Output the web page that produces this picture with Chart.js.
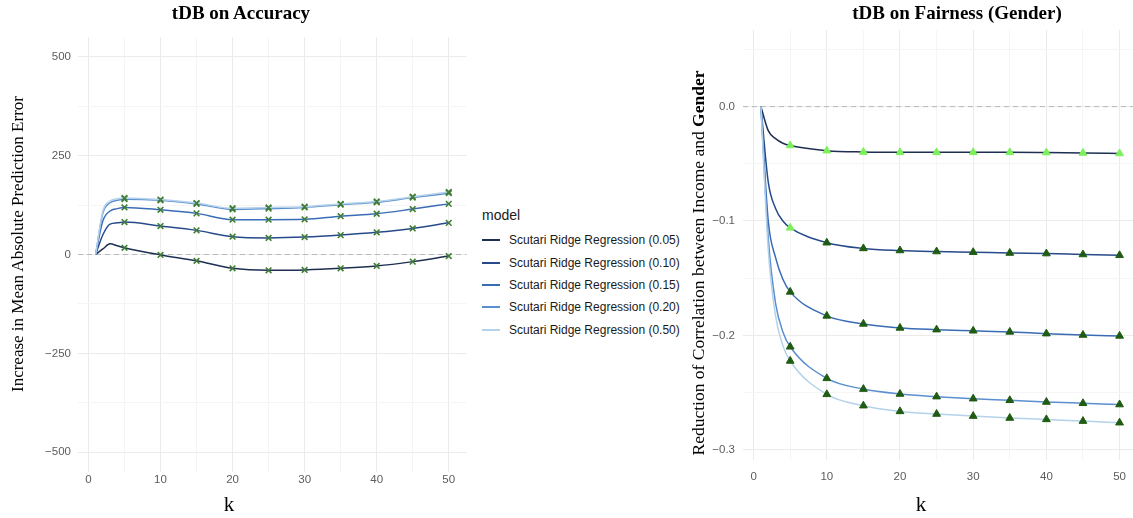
<!DOCTYPE html>
<html>
<head>
<meta charset="utf-8">
<script src="https://cdn.jsdelivr.net/npm/chart.js@4.4.1/dist/chart.umd.min.js"></script>
<style>
  body { margin: 0; width: 1133px; height: 518px; overflow: hidden; position: relative; background: #fff; }
  .box { position: absolute; }
  .title { font: bold 19px "Liberation Serif", "Times New Roman", serif; color: #000; text-align: center; width: 300px; line-height: 24px; }
  .axtitle { font: 17px "Liberation Serif", "Times New Roman", serif; color: #000; text-align: center; line-height: 20px; white-space: nowrap; }
  .rot { transform: rotate(-90deg); }
  #legend { left: 482px; top: 205px; font-family: "Liberation Sans", Arial, sans-serif; color: #1a1a1a; }
  #legend .head { font-size: 14px; line-height: 20px; margin-bottom: 4px; }
  #legend .item { display: flex; align-items: center; height: 22.4px; font-size: 12px; }
  #legend .key { width: 18px; height: 2px; margin-right: 9px; }
</style>
</head>
<body>
<div class="box" style="left:0;top:0;width:472px;height:518px"><canvas id="accuracyChart" width="472" height="518"></canvas></div>
<div class="box" style="left:680px;top:0;width:463px;height:518px"><canvas id="fairnessChart" width="463" height="518"></canvas></div>

<div class="box title" style="left:91px;top:1px">tDB on Accuracy</div>
<div class="box title" style="left:807px;top:1px">tDB on Fairness (Gender)</div>
<div class="box axtitle rot" style="left:-182px;top:234px;width:400px">Increase in Mean Absolute Prediction Error</div>
<div class="box axtitle rot" style="left:473px;top:253px;width:450px;font-size:17.5px">Reduction of Correlation between Income and <b>Gender</b></div>
<div class="box axtitle" style="left:199px;top:494px;width:60px;font-size:21px">k</div>
<div class="box axtitle" style="left:891px;top:494px;width:60px;font-size:21px">k</div>
<div class="box" id="legend"></div>

<script>
// k values where the curves were read; markers only at k = 5, 10, ... 50
const kValues = [1, 2, 3, 4, 5, 10, 15, 20, 25, 30, 35, 40, 45, 50];
const xTicks = [0, 5, 10, 15, 20, 25, 30, 35, 40, 45, 50];

const modelLabels = [
  "Scutari Ridge Regression (0.05)",
  "Scutari Ridge Regression (0.10)",
  "Scutari Ridge Regression (0.15)",
  "Scutari Ridge Regression (0.20)",
  "Scutari Ridge Regression (0.50)",
];
const lineColors = ["#1e2f52", "#274a8a", "#3a6cb5", "#5b8fcf", "#b4d2ea"];

// Increase in MAE
const accuracy005 = [0, 14, 27, 22, 17, -1, -16, -35, -40, -39, -35, -29, -18, -4];
const accuracy010 = [0, 50, 77, 80, 82, 72, 61, 45, 42, 44, 49, 56, 66, 80];
const accuracy015 = [0, 85, 110, 116, 119, 113, 104, 88, 88, 89, 97, 103, 115, 128];
const accuracy020 = [0, 105, 131, 137, 140, 137, 128, 114, 116, 119, 126, 132, 144, 155];
const accuracy050 = [0, 110, 135, 141, 143, 139, 130, 117, 119, 121, 128, 134, 146, 158];
const accuracyTicks = [-500, -375, -250, -125, 0, 125, 250, 375, 500];

// Reduction of correlation (gender)
const fairness005 = [0, -0.021, -0.028, -0.032, -0.034, -0.0385, -0.0397, -0.04, -0.04, -0.04, -0.04, -0.0402, -0.0405, -0.041];
const fairness010 = [0, -0.066, -0.089, -0.1, -0.106, -0.119, -0.124, -0.1258, -0.1267, -0.1273, -0.128, -0.1285, -0.1293, -0.13];
const fairness015 = [0, -0.1, -0.132, -0.151, -0.162, -0.183, -0.19, -0.1935, -0.195, -0.196, -0.197, -0.1985, -0.1997, -0.2005];
const fairness020 = [0, -0.115, -0.172, -0.197, -0.21, -0.2376, -0.247, -0.2513, -0.2536, -0.2554, -0.2568, -0.2583, -0.2594, -0.2605];
const fairness050 = [0, -0.125, -0.183, -0.209, -0.2224, -0.2516, -0.2615, -0.2665, -0.2688, -0.2706, -0.2723, -0.2735, -0.275, -0.2764];
const fairnessTicks = [0.05, 0, -0.05, -0.1, -0.15, -0.2, -0.25, -0.3];

// 1 = light green marker, 0 = dark green marker (k = 5 .. 50)
const fairnessLight005 = [1, 1, 1, 1, 1, 1, 1, 1, 1, 1];
const fairnessLight010 = [1, 0, 0, 0, 0, 0, 0, 0, 0, 0];
const fairnessLight015 = [0, 0, 0, 0, 0, 0, 0, 0, 0, 0];
const fairnessLight020 = [0, 0, 0, 0, 0, 0, 0, 0, 0, 0];
const fairnessLight050 = [0, 0, 0, 0, 0, 0, 0, 0, 0, 0];

const accuracySeries = [accuracy005, accuracy010, accuracy015, accuracy020, accuracy050];
const fairnessSeries = [fairness005, fairness010, fairness015, fairness020, fairness050];
const fairnessLight = [fairnessLight005, fairnessLight010, fairnessLight015, fairnessLight020, fairnessLight050];

const majorGrid = "#ebebeb";
const minorGrid = "#f5f5f5";
const tickFont = { family: "'Liberation Sans', Arial, sans-serif", size: 11.5 };
const tickColor = "#5c5c5c";

const minus = (s) => s.replace("-", "\u2212");

// dashed zero reference line
const zeroLine = {
  id: "zeroLine",
  beforeDatasetsDraw(chart) {
    const { ctx, chartArea } = chart;
    const y = chart.scales.y.getPixelForValue(0);
    ctx.save();
    ctx.strokeStyle = "#b8b8b8";
    ctx.lineWidth = 1;
    ctx.setLineDash([5, 4]);
    ctx.beginPath();
    ctx.moveTo(chartArea.left, y);
    ctx.lineTo(chartArea.right, y);
    ctx.stroke();
    ctx.restore();
  },
};

function xAxis(height, pad) {
  return {
    type: "linear",
    min: -1.45,
    max: 52.45,
    afterBuildTicks: (s) => { s.ticks = xTicks.map((v) => ({ value: v })); },
    afterFit: (s) => { s.height = height; },
    border: { display: false },
    grid: {
      drawTicks: false,
      color: (c) => (c.tick && c.tick.value % 10 === 0 ? majorGrid : minorGrid),
    },
    ticks: {
      autoSkip: false,
      maxRotation: 0,
      padding: pad,
      font: tickFont,
      color: tickColor,
      callback: (v) => (v % 10 === 0 ? String(v) : ""),
    },
  };
}

function yAxis(width, pad, min, max, ticks, isMajor, fmt) {
  return {
    type: "linear",
    min: min,
    max: max,
    afterBuildTicks: (s) => { s.ticks = ticks.map((v) => ({ value: v })); },
    afterFit: (s) => { s.width = width; },
    border: { display: false },
    grid: {
      drawTicks: false,
      color: (c) => (c.tick && isMajor(c.tick.value) ? majorGrid : minorGrid),
    },
    ticks: {
      autoSkip: false,
      padding: pad,
      font: tickFont,
      color: tickColor,
      callback: (v) => (isMajor(v) ? fmt(v) : ""),
    },
  };
}

function toPoints(values) {
  return values.map((v, i) => ({ x: kValues[i], y: v }));
}

const baseOptions = {
  responsive: false,
  animation: false,
  events: [],
  plugins: { legend: { display: false }, tooltip: { enabled: false } },
};

// left chart
new Chart(document.getElementById("accuracyChart"), {
  type: "line",
  data: {
    datasets: accuracySeries.map((vals, i) => ({
      label: modelLabels[i],
      data: toPoints(vals),
      borderColor: lineColors[i],
      borderWidth: 1.5,
      cubicInterpolationMode: "monotone",
      pointStyle: "crossRot",
      pointRadius: (c) => (c.raw && c.raw.x >= 5 ? 4 : 0),
      pointBorderColor: "#3f7d35",
      pointBackgroundColor: "#3f7d35",
      pointBorderWidth: 1.6,
      order: 5 - i,
    })),
  },
  options: {
    ...baseOptions,
    layout: { padding: { top: 37, right: 3, left: 0, bottom: 0 } },
    scales: {
      x: xAxis(46, 1),
      y: yAxis(78, 7, -550, 550, accuracyTicks, (v) => v % 250 === 0, (v) => minus(String(v))),
    },
  },
  plugins: [zeroLine],
});

// right chart
new Chart(document.getElementById("fairnessChart"), {
  type: "line",
  data: {
    datasets: fairnessSeries.map((vals, i) => ({
      label: modelLabels[i],
      data: toPoints(vals),
      borderColor: lineColors[i],
      borderWidth: 1.5,
      cubicInterpolationMode: "monotone",
      pointStyle: "triangle",
      pointRadius: (c) => (c.raw && c.raw.x >= 5 ? 4.5 : 0),
      pointBackgroundColor: (c) => (fairnessLight[i][c.dataIndex - 4] ? "#7cf05a" : "#1f5c12"),
      pointBorderColor: (c) => (fairnessLight[i][c.dataIndex - 4] ? "#7cf05a" : "#1f5c12"),
      pointBorderWidth: 1,
      order: 5 - i,
    })),
  },
  options: {
    ...baseOptions,
    layout: { padding: { top: 30, right: 2, left: 0, bottom: 0 } },
    scales: {
      x: xAxis(58, 10),
      y: yAxis(63, 8, -0.309, 0.067, fairnessTicks,
        (v) => Math.abs(Math.round(v * 100)) % 10 === 0,
        (v) => minus(v.toFixed(1))),
    },
  },
  plugins: [zeroLine],
});

// legend
const legend = document.getElementById("legend");
legend.innerHTML = '<div class="head">model</div>' +
  modelLabels.map((label, i) =>
    '<div class="item"><span class="key" style="background:' + lineColors[i] + '"></span>' + label + "</div>"
  ).join("");
</script>
</body>
</html>
